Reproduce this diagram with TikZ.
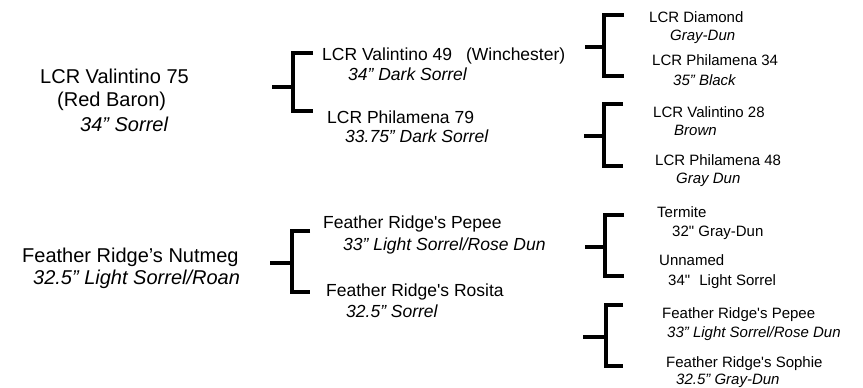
\documentclass[tikz,border=0pt]{standalone}
\usepackage{fontspec}
\setmainfont{Liberation Sans}[Ligatures=TeXOff]
\usepackage{tikz}
\usetikzlibrary{calc}

\tikzset{
  horse/.style={inner sep=0pt, anchor=base west},
  gen1/.style={horse, font=\fontsize{20}{24}\selectfont},
  gen2/.style={horse, font=\fontsize{17.5}{21}\selectfont},
  gen3/.style={horse, font=\fontsize{15}{18}\selectfont},
  coat/.append style={font=\itshape},
  bracket/.style={line width=3.4pt, line join=miter}
}

\begin{document}
\begin{tikzpicture}[x=1pt, y=-1pt]
        \useasboundingbox (0,0) rectangle (863,388);
        % first generation
        \node[gen1] (vali75) at (40,83) {LCR Valintino 75};
        \node[gen1] (redbaron) at (57,106) {(Red Baron)};
        \node[gen1, font=\fontsize{20}{24}\selectfont\itshape] (vali75c) at (80,131) {34” Sorrel};
        \node[gen1] (nutmeg) at (22,262) {Feather Ridge’s Nutmeg};
        \node[gen1, font=\fontsize{20}{24}\selectfont\itshape] (nutmegc) at (33,284) {32.5” Light Sorrel/Roan};
        % second generation
        \node[gen2] (vali49) at (322,60) {LCR Valintino 49\hspace{9pt} (Winchester)};
        \node[gen2, font=\fontsize{17.5}{21}\selectfont\itshape] (vali49c) at (348,80) {34” Dark Sorrel};
        \node[gen2] (phil79) at (327,123) {LCR Philamena 79};
        \node[gen2, font=\fontsize{17.5}{21}\selectfont\itshape] (phil79c) at (345,142) {33.75” Dark Sorrel};
        \node[gen2] (pepee) at (323,228) {Feather Ridge's Pepee};
        \node[gen2, font=\fontsize{17.5}{21}\selectfont\itshape] (pepeec) at (343,250) {33” Light Sorrel/Rose Dun};
        \node[gen2] (rosita) at (326,296) {Feather Ridge's Rosita};
        \node[gen2, font=\fontsize{17.5}{21}\selectfont\itshape] (rositac) at (346,317) {32.5” Sorrel};
        % third generation
        \node[gen3] (diamond) at (649,23) {LCR Diamond};
        \node[gen3, font=\fontsize{15}{18}\selectfont\itshape] (diamondc) at (670,40) {Gray-Dun};
        \node[gen3] (phil34) at (652,65) {LCR Philamena 34};
        \node[gen3, font=\fontsize{15}{18}\selectfont\itshape] (phil34c) at (673,85) {35” Black};
        \node[gen3] (vali28) at (653,117) {LCR Valintino 28};
        \node[gen3, font=\fontsize{15}{18}\selectfont\itshape] (vali28c) at (674,135) {Brown};
        \node[gen3] (phil48) at (655,165) {LCR Philamena 48};
        \node[gen3, font=\fontsize{15}{18}\selectfont\itshape] (phil48c) at (676,183) {Gray Dun};
        \node[gen3] (termite) at (657,217) {Termite};
        \node[gen3] (termitec) at (672,236) {32" Gray-Dun};
        \node[gen3] (unnamed) at (659,265) {Unnamed};
        \node[gen3] (unnamedc) at (668,285) {34"\hspace{5pt} Light Sorrel};
        \node[gen3] (pepee3) at (662,318) {Feather Ridge's Pepee};
        \node[gen3, font=\fontsize{15}{18}\selectfont\itshape] (pepee3c) at (667,337) {33” Light Sorrel/Rose Dun};
        \node[gen3] (sophie) at (666,367) {Feather Ridge's Sophie};
        \node[gen3, font=\fontsize{15}{18}\selectfont\itshape] (sophiec) at (676,384) {32.5” Gray-Dun};
        % brackets
        \foreach \n/\sx/\vx/\ty/\by/\my/\ex in {1/272/293/53/111/87/313, 2/270/292/231/292/263/310,
            3/585/604/15/76/47/624, 4/584/604/104/166/136/623,
            5/585/605/215/276/247/624, 6/583/606/305/366/337/623} {
            \coordinate (stub\n) at (\sx,\my);
            \coordinate (joint\n) at (\vx,\my);
            \coordinate (top\n) at (\ex,\ty);
            \coordinate (bot\n) at (\ex,\by);
            \draw[bracket] (top\n) -| (joint\n) |- (bot\n);
            \draw[bracket] (stub\n) -- (joint\n);}
        \end{tikzpicture}
\end{document}
